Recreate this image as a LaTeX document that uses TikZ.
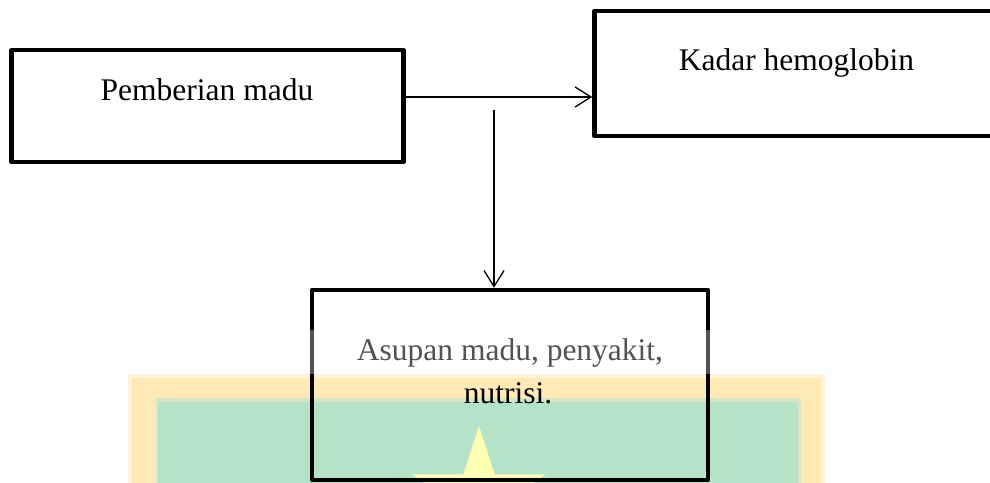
\documentclass[tikz,border=0pt]{standalone}
\usepackage{fontspec}
\setmainfont{Liberation Serif}
\usetikzlibrary{arrows.meta,calc}
\definecolor{wmpale}{RGB}{255,243,218}
\definecolor{wmyellow}{RGB}{255,233,181}
\definecolor{wmedge}{RGB}{213,229,198}
\definecolor{wmgreen}{RGB}{180,227,199}
\definecolor{wmstar}{RGB}{255,255,178}
\tikzset{
  flowbox/.style={draw=black, line width=4.5pt, line join=round, inner sep=0pt},
  caption/.style={anchor=base, inner sep=0pt, font=\fontsize{31.5}{43}\selectfont},
  link/.style={draw=black, line width=1.3pt, -{Straight Barb[length=16pt, width=20pt, line width=1.3pt]}},
}
\begin{document}
\begin{tikzpicture}[x=1pt, y=-1pt]
  \useasboundingbox (0,0) rectangle (990,482);
  \clip (0,0) rectangle (990,482);

  % emblem in the lower part of the page
  \fill[wmpale]   (128,374) rectangle (825,490);
  \fill[wmyellow] (132,378) rectangle (821,490);
  \fill[wmedge]   (156,398) rectangle (801,490);
  \fill[wmgreen]  (158,402) rectangle (798,490);
  \coordinate (starc) at (479,496);
  \fill[wmstar] ($(starc)+(90:70pt)$)
    \foreach \k in {0,...,4} {
      -- ($(starc)+({126+72*\k}:26.7pt)$)
      -- ($(starc)+({162+72*\k}:70pt)$)
    } -- cycle;

  % boxes
  \node[flowbox, minimum width=392pt, minimum height=111.7pt] (box1) at (207.7,105.9) {};
  \node[flowbox, minimum width=430pt, minimum height=125pt] (box2) at (809.5,73.5) {};
  \node[flowbox, minimum width=396pt, minimum height=190pt] (box3) at (510,385) {};

  % labels
  \node[caption] (t1) at (207,100) {Pemberian madu};
  \node[caption] (t2) at (796.5,70) {Kadar hemoglobin};
  \node[caption] (t3a) at (510,360) {Asupan madu, penyakit,};
  \node[caption] (t3b) at (508,403) {nutrisi.};

  % connectors
  \coordinate (split) at (494,110);
  \draw[link] (box1.east |- 0,97) -- (box2.west |- 0,97);
  \draw[link] (split) -- (split |- box3.north);

  % faded band over the upper edge of the emblem
  \fill[white, opacity=0.32] (128,330) rectangle (825,374);
\end{tikzpicture}
\end{document}
